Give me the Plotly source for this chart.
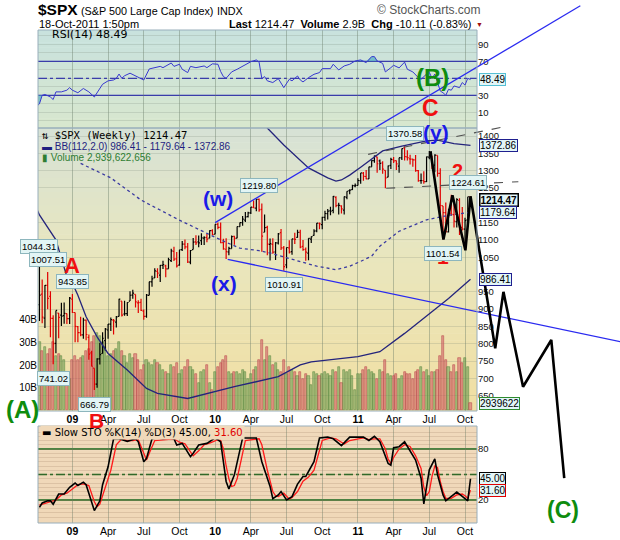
import plotly.graph_objects as go
import pandas as pd

W, H = 620, 540
def fx(p): return p / W
def fy(p): return 1 - p / H

# ---------------- DATA ----------------
weeks = pd.date_range("2008-10-06", periods=159, freq="7D")

bar_open = [1097.56, 912.75, 943.51, 874.28, 968.67, 936.75, 873.23, 801.20, 888.61, 882.71, 881.07, 887.20, 872.37,
            929.17, 890.40, 849.64, 832.50, 825.44, 868.24, 818.61, 773.68, 729.57, 683.38, 756.55, 771.99, 809.07, 839.75, 856.85, 868.27, 862.82,
            879.21, 922.99, 886.07, 887.00, 923.26, 940.35, 942.45, 918.13, 919.86, 894.27, 879.57, 940.00, 978.63, 990.22, 1008.89, 998.00, 1026.59, 1025.21,
            1016.40, 1040.00, 1067.00, 1045.00, 1026.87, 1071.63, 1088.00, 1080.00, 1036.00, 1072.00, 1094.00, 1094.00, 1098.00, 1105.00, 1107.00, 1105.00, 1127.00,
            1116.56, 1145.00, 1136.00, 1092.00, 1073.00, 1065.00, 1075.00, 1110.00, 1105.00, 1138.00, 1150.00, 1157.00, 1167.00, 1178.00, 1194.00, 1192.00, 1217.00,
            1188.00, 1122.00, 1136.00, 1087.00, 1087.00, 1065.00, 1091.00, 1121.00, 1077.00, 1028.00, 1077.00, 1066.00, 1102.00, 1107.00, 1122.00, 1081.00, 1073.00, 1062.00,
            1102.00, 1113.00, 1126.00, 1148.00, 1144.00, 1165.00, 1176.00, 1184.00, 1185.00, 1223.00, 1200.00, 1198.00, 1186.00, 1223.00, 1242.00, 1245.00, 1256.00,
            1257.00, 1271.00, 1293.00, 1283.00, 1276.00, 1311.00, 1329.00, 1340.00, 1328.00, 1322.00, 1301.00, 1281.00, 1315.00, 1332.00, 1329.00, 1313.00, 1337.00,
            1365.00, 1340.00, 1334.00, 1333.00, 1331.00, 1300.00, 1271.00, 1271.00, 1268.00, 1339.00, 1343.00, 1316.00, 1344.00, 1292.00, 1198.00, 1179.00, 1123.00,
            1177.00, 1173.00, 1153.00, 1214.00, 1136.00, 1131.00, 1158.00, 1224.47]
bar_high = [1097.56, 1044.31, 985.44, 969.97, 1007.51, 951.95, 882.29, 896.25, 888.61, 918.57, 918.85, 887.37, 934.73,
            943.85, 890.40, 851.59, 877.86, 875.01, 870.44, 827.00, 780.12, 729.57, 758.29, 803.04, 832.98, 845.61, 856.91, 875.63, 871.80, 880.48,
            930.17, 922.99, 924.60, 920.02, 951.69, 956.23, 942.45, 926.00, 930.12, 898.72, 943.96, 979.42, 996.68, 1018.00, 1018.00, 1027.59, 1039.47, 1028.00,
            1048.18, 1074.77, 1080.15, 1065.00, 1071.51, 1096.56, 1101.36, 1091.00, 1071.00, 1105.37, 1113.69, 1112.38, 1119.13, 1110.72, 1117.00, 1128.00, 1130.38,
            1145.39, 1150.45, 1150.00, 1103.00, 1104.73, 1080.00, 1112.42, 1112.00, 1139.00, 1150.00, 1169.00, 1180.69, 1181.43, 1194.66, 1213.92, 1217.28, 1219.80,
            1205.13, 1173.57, 1141.00, 1104.00, 1105.00, 1094.00, 1120.00, 1131.23, 1082.00, 1078.00, 1099.08, 1103.00, 1120.95, 1129.24, 1129.24, 1100.00, 1078.00, 1105.00,
            1110.00, 1131.00, 1148.90, 1150.00, 1167.00, 1184.00, 1189.00, 1196.00, 1227.08, 1226.00, 1207.00, 1200.00, 1225.00, 1240.40, 1246.00, 1259.00, 1263.00,
            1278.00, 1293.50, 1296.00, 1302.00, 1311.00, 1330.00, 1344.00, 1340.00, 1332.00, 1327.00, 1301.00, 1315.00, 1337.00, 1339.00, 1329.00, 1337.50, 1364.00,
            1370.58, 1359.00, 1346.00, 1334.00, 1345.00, 1302.00, 1292.00, 1298.00, 1341.00, 1356.48, 1343.00, 1347.00, 1344.00, 1307.00, 1198.00, 1208.00, 1190.00,
            1230.71, 1204.00, 1220.00, 1220.00, 1195.00, 1164.00, 1224.61, 1224.47]
bar_low = [839.80, 865.83, 859.60, 845.27, 899.73, 818.69, 741.02, 772.71, 815.69, 851.35, 857.72, 857.09, 857.07,
           889.01, 804.30, 804.47, 821.67, 814.77, 809.89, 754.25, 734.52, 666.79, 672.88, 739.89, 771.99, 779.81, 814.53, 836.93, 826.83, 847.12,
           878.94, 878.94, 881.00, 880.00, 923.26, 930.00, 904.78, 888.86, 895.00, 869.32, 875.00, 940.00, 965.00, 990.22, 990.00, 978.51, 1016.20, 991.97,
           1016.40, 1036.00, 1039.00, 1019.95, 1025.00, 1068.00, 1073.00, 1033.38, 1029.38, 1072.00, 1085.00, 1079.00, 1085.00, 1085.00, 1093.00, 1105.00, 1114.00,
           1116.56, 1131.00, 1090.00, 1071.59, 1044.50, 1056.00, 1075.00, 1086.00, 1105.00, 1138.00, 1141.00, 1152.00, 1165.00, 1175.00, 1192.00, 1183.00, 1181.62,
           1065.79, 1122.00, 1055.90, 1040.78, 1060.00, 1042.17, 1087.00, 1071.00, 1010.91, 1018.00, 1061.00, 1056.88, 1088.00, 1106.00, 1076.00, 1069.00, 1039.70, 1040.88,
           1091.00, 1112.00, 1122.00, 1131.00, 1131.00, 1155.00, 1159.00, 1171.00, 1177.00, 1194.00, 1173.00, 1176.00, 1173.00, 1217.00, 1232.00, 1244.00, 1252.00,
           1257.00, 1262.00, 1271.00, 1275.00, 1276.00, 1311.00, 1323.00, 1294.00, 1302.00, 1291.00, 1249.05, 1281.00, 1305.00, 1322.00, 1302.00, 1294.00, 1331.00,
           1329.00, 1329.00, 1318.00, 1311.00, 1297.00, 1268.00, 1262.00, 1262.00, 1267.00, 1333.00, 1305.00, 1295.00, 1282.00, 1168.09, 1101.54, 1121.00, 1121.00,
           1170.00, 1136.00, 1136.00, 1114.22, 1127.00, 1074.77, 1158.00, 1198.55]
bar_close = [899.22, 940.55, 876.77, 968.75, 930.99, 873.29, 800.03, 896.24, 876.07, 879.73, 887.88, 872.80, 931.80,
             890.35, 850.12, 831.95, 825.88, 868.60, 826.84, 770.05, 735.09, 683.38, 756.55, 768.54, 815.94, 842.50, 856.56, 869.60, 866.23, 877.52,
             929.23, 882.88, 887.00, 919.14, 940.09, 946.21, 921.23, 918.90, 896.42, 879.13, 940.38, 979.26, 987.48, 1010.48, 1004.09, 1026.13, 1028.93, 1016.40,
             1042.73, 1068.30, 1044.38, 1025.21, 1071.49, 1087.68, 1079.60, 1036.19, 1069.30, 1093.48, 1091.38, 1091.49, 1105.98, 1106.41, 1102.47, 1126.48, 1115.10,
             1144.98, 1136.03, 1091.76, 1073.87, 1066.19, 1075.51, 1109.17, 1104.49, 1138.70, 1149.99, 1159.90, 1166.59, 1178.10, 1194.37, 1192.13, 1217.28, 1186.69,
             1110.88, 1135.68, 1087.69, 1089.41, 1064.88, 1091.60, 1117.51, 1076.76, 1022.58, 1077.96, 1064.88, 1102.66, 1101.60, 1121.64, 1079.25, 1071.69, 1064.59, 1104.51,
             1109.55, 1125.59, 1148.67, 1146.24, 1165.15, 1176.19, 1183.08, 1183.26, 1225.85, 1199.21, 1199.73, 1189.40, 1224.71, 1240.40, 1243.91, 1256.77, 1257.64,
             1271.50, 1293.24, 1283.35, 1276.34, 1310.87, 1329.15, 1343.01, 1319.88, 1321.15, 1304.28, 1279.20, 1313.80, 1332.41, 1328.17, 1319.68, 1337.38, 1363.61,
             1340.20, 1337.77, 1333.27, 1331.10, 1300.16, 1270.98, 1271.50, 1268.45, 1339.67, 1343.80, 1316.14, 1345.02, 1292.28, 1199.38, 1178.81, 1123.53, 1176.80,
             1173.97, 1154.23, 1216.01, 1136.43, 1131.42, 1155.46, 1224.58, 1214.47]
volume_bn = [33, 30, 26, 28, 25, 27, 30, 24, 25, 24, 22, 13, 14,
             22, 24, 22, 23, 24, 26, 27, 30, 33, 34, 33, 30, 28, 24, 25, 26, 27,
             30, 26, 24, 21, 25, 23, 25, 22, 18, 20, 22, 21, 20, 22, 21, 20, 18, 17,
             16, 20, 19, 21, 16, 18, 19, 22, 19, 18, 16, 12, 17, 18, 20, 12, 9,
             17, 19, 21, 22, 24, 17, 16, 17, 17, 16, 18, 17, 14, 16, 18, 19, 22,
             31, 22, 28, 24, 20, 21, 18, 17, 22, 16, 19, 18, 17, 15, 17, 14, 16, 15,
             11, 17, 16, 15, 16, 17, 16, 15, 18, 17, 19, 12, 18, 17, 18, 15, 9,
             16, 16, 18, 19, 18, 17, 16, 14, 18, 17, 22, 16, 15, 15, 16, 14, 15,
             17, 16, 16, 14, 17, 18, 19, 17, 18, 15, 17, 17, 18, 24, 33, 22, 19,
             17, 20, 17, 23, 21, 23, 19, 2.94]

# indicator readings (week number -> value)
rsi_week = [0, 1, 2, 3, 5, 6, 7, 9, 11, 12, 13, 15, 17, 19, 21, 23, 24, 26, 28, 29, 30, 31, 32, 34, 36, 39, 41, 43, 45, 46,
            49, 50, 52, 53, 55, 56, 58, 61, 62, 64, 66, 67, 68, 69, 71, 73, 75, 77, 78, 80, 81, 82, 83, 84, 86, 88, 90, 92, 93,
            95, 96, 97, 99, 101, 103, 104, 107, 108, 110, 112, 114, 116, 118, 120, 121, 122, 123, 124, 126, 127, 129, 130, 132,
            134, 135, 137, 139, 140, 142, 143, 144, 145, 146, 147, 148, 149, 150, 151, 152, 153, 154, 155, 156, 157, 158]
rsi_val = [17, 20, 30, 31, 28, 25, 34, 34, 36, 39, 36, 33, 38, 34, 28, 37, 43, 47, 48, 50, 55, 50, 53, 56, 53, 48, 61, 62.5, 64, 62.5,
           68, 64, 66.5, 60.6, 56.7, 64, 62.5, 64.5, 62.5, 67, 66.5, 58, 52, 50, 57.5, 60.6, 64.5, 67.6, 69.5, 71.6, 69, 49.6, 52, 47, 45, 49.6, 39, 48.8, 47,
           52.7, 48, 45.7, 50.8, 54.7, 56.7, 61.4, 61.4, 66.5, 59.8, 64.5, 66.5, 70.4, 71.6, 68.4, 72.4, 75.5, 75.5, 70.4, 67.6, 57.5, 62.5, 65.3, 62.2,
           69, 60.6, 57.5, 50.8, 48.8, 55, 57, 50, 55, 45, 35, 33, 30, 37, 36, 41, 40, 39, 45, 42, 50, 48.49]

stoch_k_week = [1, 2, 4, 5, 6, 8, 10, 12, 14, 15, 17, 18, 21, 23, 24, 26, 28, 30, 33, 36, 37, 39, 40, 42, 44, 46, 48, 50, 51, 53,
                56, 57, 59, 62, 65, 67, 68, 69, 70, 72, 75, 80, 82, 85, 86, 88, 89, 91, 93, 95, 97, 98, 101, 103, 106, 108, 111,
                114, 119, 121, 123, 125, 128, 129, 130, 132, 134, 136, 138, 140, 141, 143, 145, 146, 148, 149, 151, 153, 155, 156, 157, 158]
stoch_k_val = [11.4, 16.5, 19, 19, 15, 27, 27, 35, 40, 37, 41, 38, 7.5, 19, 38, 59, 92, 92, 89, 92, 88.5, 65, 69, 92, 93, 92, 93, 92, 84.7, 86.6,
               71, 75, 84.7, 86.6, 93, 88.5, 65, 41.8, 33, 49.6, 93, 93, 65, 36, 21.5, 26, 30, 20, 24, 38.7, 47.7, 47.7, 65, 93, 94, 92, 84,
               94, 94, 90, 95, 88.5, 63, 61, 81.5, 82.7, 88.5, 77, 67, 45.7, 15.3, 55.5, 68.3, 49.6, 26, 19, 24.3, 29.4, 24.3, 22, 19, 45.0]
stoch_d_week = [1, 3, 5, 7, 9, 11, 13, 15, 17, 19, 21, 22, 23, 25, 27, 29, 31, 33, 35, 37, 39, 40, 41, 43, 50, 52, 54, 56, 57, 59,
                61, 63, 66, 67, 68, 69, 70, 71, 72, 73, 75, 76, 81, 82, 84, 86, 87, 88, 90, 91, 92, 93, 95, 97, 99, 101, 103, 104,
                107, 109, 111, 112, 114, 119, 121, 123, 125, 127, 128, 129, 130, 132, 134, 136, 138, 140, 141, 142, 143, 144, 145,
                146, 147, 148, 149, 151, 153, 155, 156, 157, 158]
stoch_d_val = [14, 16, 18, 20, 26, 28, 33, 38, 39, 37, 18, 12, 15, 35, 55, 85, 92, 90, 90, 91, 75, 67, 75, 90, 92, 88, 86, 76, 72, 78,
               85, 87, 91, 90, 80, 60, 45, 36, 37, 45, 75, 90, 92, 85, 55, 30, 25, 24, 28, 24, 21, 23, 30, 42, 47, 55, 80, 90,
               93, 92, 88, 86, 90, 93, 91, 92, 92, 80, 68, 63, 70, 80, 85, 83, 72, 57, 35, 25, 30, 48, 60,
               58, 42, 30, 22, 22, 26, 27, 25, 22, 31.6]

bb_upper_week = [80, 84, 90, 96, 99, 106, 109, 111, 114, 118, 121, 126, 133, 142, 146, 152, 158]
bb_upper_val = [1480, 1423, 1374, 1328, 1308, 1279, 1270, 1273, 1287, 1310, 1328, 1357, 1371, 1386, 1388, 1378, 1372.86]
bb_mid_week = [16, 27, 38, 52, 62, 67, 74, 81, 85, 96, 102, 109, 114, 118, 122, 125, 132, 142, 150, 158]
bb_mid_val = [1321, 1279, 1215, 1157, 1119, 1100, 1076, 1069, 1062, 1038, 1024, 1014, 1024, 1038, 1053, 1082, 1125, 1158, 1171, 1179.64]
bb_lower_week = [0, 1, 7, 11, 13, 15, 18, 22, 26, 33, 40, 44, 55, 72, 88, 96, 100, 117, 125, 134, 150, 158]
bb_lower_val = [1190, 1172, 1100, 994, 975, 940, 878, 820, 772, 724, 671, 657, 642, 676, 705, 739, 748, 763, 777, 830, 931, 986.41]

# hand-drawn wave annotations (date, price)
channel_top_date = ["2010-01-04", "2012-07-23"]
channel_top_val = [1150, 1776]
channel_bot_date = ["2010-02-05", "2012-11-02"]
channel_bot_val = [1044, 806]
wedge_top_date = ["2011-01-29", "2012-01-04"]
wedge_top_val = [1347, 1425]
wedge_bot_date = ["2011-03-16", "2012-02-16"]
wedge_bot_val = [1249, 1268]
wave_date = ["2011-07-07", "2011-08-09", "2011-09-01", "2011-10-04", "2011-10-17",
             "2011-12-19", "2012-01-09", "2012-02-28", "2012-05-10", "2012-06-12"]
wave_val = [1356, 1101, 1229, 1070, 1226, 787, 950, 676, 811, 412]

quarter_ticks = ["2009-01-05", "2009-04-06", "2009-07-06", "2009-10-05", "2010-01-04", "2010-04-05",
                 "2010-07-05", "2010-10-04", "2011-01-03", "2011-04-04", "2011-07-04", "2011-10-03"]
quarter_text = ["<b>09</b>", "Apr", "Jul", "Oct", "<b>10</b>", "Apr", "Jul", "Oct", "<b>11</b>", "Apr", "Jul", "Oct"]
price_ticks = [650, 700, 750, 800, 850, 900, 950, 1050, 1100, 1150, 1250, 1300, 1350, 1400]

# ---------------- LAYOUT CONSTANTS ----------------
LEFT, RIGHT = 38, 477
RSI_TOP, MAIN_TOP, MAIN_BOT, STO_TOP, STO_BOT = 30, 128, 411, 426, 523
X_RANGE = ["2008-10-09 08:00", "2011-11-02 14:00"]
PRICE_RANGE = [605.9, 1423.1]
VOL_RANGE = [-0.44, 125.3]
RSI_RANGE = [-8.47, 106.8]
STO_RANGE = [-7.06, 107.06]

t0, t1 = pd.Timestamp(X_RANGE[0]), pd.Timestamp(X_RANGE[1])
a, b = fx(LEFT), fx(RIGHT)
tspan = (t1 - t0) / (b - a)
OV_X = [str(t0 - tspan * a), str(t1 + tspan * (1 - b))]
c, d = fy(MAIN_BOT), fy(MAIN_TOP)
pspan = (PRICE_RANGE[1] - PRICE_RANGE[0]) / (d - c)
OV_Y = [PRICE_RANGE[0] - pspan * c, PRICE_RANGE[1] + pspan * (1 - d)]

def wk(idx):
    return [weeks[i] for i in idx]

fig = go.Figure()

# volume
up = []
prev = None
for o, cl in zip(bar_open, bar_close):
    up.append(cl >= (o if prev is None else prev))
    prev = cl
vol_fill = ["rgba(110,160,85,0.55)" if u else "rgba(215,105,110,0.6)" for u in up]
vol_line = ["rgba(90,135,65,0.9)" if u else "rgba(185,70,75,0.9)" for u in up]
fig.add_trace(go.Bar(x=weeks, y=volume_bn, marker=dict(color=vol_fill, line=dict(color=vol_line, width=0.6)),
                     width=5.4 * 86400000, xaxis="x", yaxis="y", hoverinfo="skip"))

# Bollinger bands
fig.add_trace(go.Scatter(x=wk(bb_upper_week), y=bb_upper_val, mode="lines", line=dict(color="#24247c", width=1.3),
                         xaxis="x", yaxis="y2"))
fig.add_trace(go.Scatter(x=wk(bb_lower_week), y=bb_lower_val, mode="lines", line=dict(color="#24247c", width=1.3),
                         xaxis="x", yaxis="y2"))
fig.add_trace(go.Scatter(x=wk(bb_mid_week), y=bb_mid_val, mode="lines", line=dict(color="#3a3aa0", width=1.3, dash="dot"),
                         xaxis="x", yaxis="y2"))

# price bars
for flag, col in [(True, "black"), (False, "#e00000")]:
    idx = [i for i, u in enumerate(up) if u == flag]
    fig.add_trace(go.Ohlc(x=wk(idx), open=[bar_open[i] for i in idx], high=[bar_high[i] for i in idx],
                          low=[bar_low[i] for i in idx], close=[bar_close[i] for i in idx],
                          increasing=dict(line=dict(color=col, width=1.2)),
                          decreasing=dict(line=dict(color=col, width=1.2)),
                          tickwidth=0.45, xaxis="x", yaxis="y2", hoverinfo="skip"))

# RSI with shaded extremes
RSI_FILL = "rgba(70,170,190,0.65)"
lo_idx = [i for i, w in enumerate(rsi_week) if w <= 2]
hi_idx = [i for i, w in enumerate(rsi_week) if 116 <= w <= 124]
fig.add_trace(go.Scatter(x=[weeks[rsi_week[i]] for i in lo_idx], y=[30] * len(lo_idx), mode="lines",
                         line=dict(width=0), xaxis="x2", yaxis="y3"))
fig.add_trace(go.Scatter(x=[weeks[rsi_week[i]] for i in lo_idx], y=[min(rsi_val[i], 30) for i in lo_idx], mode="lines",
                         line=dict(width=0), fill="tonexty", fillcolor=RSI_FILL, xaxis="x2", yaxis="y3"))
fig.add_trace(go.Scatter(x=[weeks[rsi_week[i]] for i in hi_idx], y=[70] * len(hi_idx), mode="lines",
                         line=dict(width=0), xaxis="x2", yaxis="y3"))
fig.add_trace(go.Scatter(x=[weeks[rsi_week[i]] for i in hi_idx], y=[max(rsi_val[i], 70) for i in hi_idx], mode="lines",
                         line=dict(width=0), fill="tonexty", fillcolor=RSI_FILL, xaxis="x2", yaxis="y3"))
fig.add_trace(go.Scatter(x=wk(rsi_week), y=rsi_val, mode="lines", line=dict(color="#3838d0", width=1),
                         xaxis="x2", yaxis="y3"))
# STO
fig.add_trace(go.Scatter(x=wk(stoch_d_week), y=stoch_d_val, mode="lines", line=dict(color="#ff1a1a", width=1.3),
                         xaxis="x3", yaxis="y4"))
fig.add_trace(go.Scatter(x=wk(stoch_k_week), y=stoch_k_val, mode="lines", line=dict(color="black", width=1.6),
                         xaxis="x3", yaxis="y4"))

# overlay drawings
fig.add_trace(go.Scatter(x=channel_top_date, y=channel_top_val, mode="lines", line=dict(color="#2a2af0", width=1.3),
                         xaxis="x4", yaxis="y5"))
fig.add_trace(go.Scatter(x=channel_bot_date, y=channel_bot_val, mode="lines", line=dict(color="#2a2af0", width=1.3),
                         xaxis="x4", yaxis="y5"))
for dd, vv in [(wedge_top_date, wedge_top_val), (wedge_bot_date, wedge_bot_val)]:
    fig.add_trace(go.Scatter(x=dd, y=vv, mode="lines", line=dict(color="#505050", width=1.1, dash="dash"),
                             xaxis="x4", yaxis="y5"))
fig.add_trace(go.Scatter(x=wave_date, y=wave_val, mode="lines", line=dict(color="black", width=2.6),
                         xaxis="x4", yaxis="y5"))

# ---------------- SHAPES ----------------
shapes = []
def gradient(ytop, ybot, stops, n=40):
    for i in range(n):
        f = (i + 0.5) / n
        for j in range(len(stops) - 1):
            if stops[j][0] <= f <= stops[j + 1][0]:
                g = (f - stops[j][0]) / (stops[j + 1][0] - stops[j][0])
                col = [round(stops[j][1][k] + g * (stops[j + 1][1][k] - stops[j][1][k])) for k in range(3)]
                break
        y0 = ytop + (ybot - ytop) * i / n
        y1 = ytop + (ybot - ytop) * (i + 1) / n + 0.6
        shapes.append(dict(type="rect", xref="paper", yref="paper", x0=fx(LEFT), x1=fx(RIGHT), y0=fy(min(y1, ybot)), y1=fy(y0),
                           fillcolor="rgb(%d,%d,%d)" % tuple(col), line=dict(width=0), layer="below"))

gradient(RSI_TOP, MAIN_TOP, [(0, (200, 226, 222)), (1, (216, 231, 206))])
gradient(MAIN_TOP, MAIN_BOT, [(0, (214, 226, 214)), (0.45, (233, 230, 190)), (1, (241, 223, 162))])
gradient(STO_TOP, STO_BOT, [(0, (240, 217, 187)), (1, (240, 216, 184))], n=4)

for val, dash in [(70, "solid"), (30, "solid"), (50, "dashdot")]:
    shapes.append(dict(type="line", xref="paper", yref="y3", x0=fx(LEFT), x1=fx(RIGHT), y0=val, y1=val,
                       line=dict(color="#2a2ab8", width=1.3, dash=dash), layer="below"))
for val, dash in [(80, "solid"), (20, "solid"), (50, "dashdot")]:
    shapes.append(dict(type="line", xref="paper", yref="y4", x0=fx(LEFT), x1=fx(RIGHT), y0=val, y1=val,
                       line=dict(color="#17661b", width=1.3, dash=dash), layer="below"))
for yt, yb in [(RSI_TOP, MAIN_TOP), (MAIN_TOP, MAIN_BOT), (STO_TOP, STO_BOT)]:
    shapes.append(dict(type="rect", xref="paper", yref="paper", x0=fx(LEFT), x1=fx(RIGHT), y0=fy(yb), y1=fy(yt),
                       line=dict(color="#98aebb", width=1), fillcolor="rgba(0,0,0,0)", layer="above"))

# ---------------- ANNOTATIONS ----------------
ann = []
def txt(text, x, y, size=11, color="black", family="Liberation Sans", xanchor="left", **kw):
    ann.append(dict(text=text, x=fx(x), y=fy(y), xref="paper", yref="paper", showarrow=False,
                    xanchor=xanchor, yanchor="middle", font=dict(size=size, color=color, family=family), **kw))

txt("<b>$SPX</b>", 36, 10, size=15.5)
txt("(S&P 500 Large Cap Index)", 79, 11, size=10.8)
txt("INDX", 215, 11, size=10.8)
txt("© StockCharts.com", 483, 10, size=12, color="#555", xanchor="right")
txt("18-Oct-2011 1:50pm", 37, 24, size=11)
txt("<b>Last</b> 1214.47  <b>Volume</b> 2.9B  <b>Chg</b> -10.11 (-0.83%)", 473, 24, size=11, xanchor="right")
txt("▼", 474, 25, size=7, color="#a01010")

txt("RSI(14) 48.49", 50, 35, size=11, family="DejaVu Sans")
txt("⇅ $SPX (Weekly) 1214.47", 40, 135, size=10.5, family="DejaVu Sans Mono")
txt("▬ BB(112,2.0) 986.41 - 1179.64 - 1372.86", 40, 147, size=10, color="#1f1f80")
txt("▮ Volume 2,939,622,656", 40, 157, size=10, color="#2e7d32")
txt("▬ Slow STO %K(14) %D(3) 45.00, <span style='color:#e00000'>31.60</span>", 40, 432, size=10,
    family="DejaVu Sans", bgcolor="#f0d9ba")

# wave labels
GREEN, RED, BLUE = "#0e8c0e", "#f01010", "#1a1ae8"
for t, x, y, col, sz in [("(A)", 22, 409, GREEN, 24), ("A", 72, 265, RED, 22), ("B", 96, 420, RED, 21),
                         ("(w)", 218, 198, BLUE, 21), ("(x)", 224, 283, BLUE, 21), ("(y)", 436, 132, BLUE, 21),
                         ("C", 430, 108, RED, 23), ("(B)", 432, 78, GREEN, 24), ("2", 457, 171, RED, 20),
                         ("1", 443, 256, RED, 21), ("(C)", 563, 510, GREEN, 23)]:
    txt("<b>%s</b>" % t, x, y, size=sz, color=col, xanchor="center")

# price swing labels (data coords)
for date, price, shift in [("2008-10-13", 1044.31, 5), ("2008-11-03", 1007.51, 5), ("2009-01-05", 943.85, 5),
                           ("2008-10-06", 839.80, -7), ("2008-11-17", 741.02, -7), ("2009-03-02", 666.79, -7),
                           ("2010-04-26", 1219.80, 5), ("2010-06-28", 1010.91, -6), ("2011-05-02", 1370.58, 5),
                           ("2011-10-10", 1224.61, 7), ("2011-08-08", 1101.54, -7)]:
    ann.append(dict(text="%.2f" % price, x=date, y=price, xref="x", yref="y2", showarrow=False,
                    xanchor="center", yanchor="bottom" if shift > 0 else "top", yshift=shift,
                    font=dict(size=9.5, color="black", family="Liberation Sans"),
                    bgcolor="#e2f5f5", bordercolor="#8db6bd", borderwidth=1, borderpad=1))

# right-edge value boxes
for t, yref, val, border, bw in [("48.49", "y3", 48.49, "#55c0d5", 1), ("1372.86", "y2", 1372.86, "#1f1f8f", 1),
                                 ("<b>1214.47</b>", "y2", 1214.47, "#000000", 1.5), ("1179.64", "y2", 1179.64, "#1f1f8f", 1),
                                 ("986.41", "y2", 986.41, "#1f1f8f", 1), ("2939622", "y", 2.94, "#2e8b2e", 1),
                                 ("45.00", "y4", 45.0, "#000000", 1), ("31.60", "y4", 31.6, "#e00000", 1)]:
    ann.append(dict(text=t, x=fx(RIGHT + 2), y=val, xref="paper", yref=yref, showarrow=False,
                    xanchor="left", yanchor="middle", font=dict(size=10, color="black", family="Liberation Sans"),
                    bgcolor="#e2f6f8", bordercolor=border, borderwidth=bw, borderpad=0))

GRID_H = "rgba(120,130,120,0.22)"
GRID_V = "rgba(100,120,100,0.40)"
xcommon = dict(type="date", range=X_RANGE, domain=[fx(LEFT), fx(RIGHT)], tickvals=quarter_ticks, ticktext=quarter_text,
               showgrid=True, gridcolor=GRID_V, gridwidth=1, zeroline=False, showline=False, ticks="",
               tickfont=dict(size=10.5, family="Liberation Sans", color="black"), fixedrange=True)

fig.update_layout(
    width=W, height=H, autosize=False, margin=dict(l=0, r=0, t=0, b=0),
    paper_bgcolor="white", plot_bgcolor="rgba(0,0,0,0)", showlegend=False, hovermode=False,
    font=dict(family="Liberation Sans", size=10, color="black"),
    bargap=0,
    xaxis=dict(**xcommon, anchor="y", rangeslider=dict(visible=False)),
    yaxis=dict(domain=[fy(MAIN_BOT), fy(MAIN_TOP)], range=VOL_RANGE, side="left", tickvals=[10, 20, 30, 40],
               ticktext=["10B", "20B", "30B", "40B"], showgrid=False, zeroline=False, ticks="",
               tickfont=dict(size=10, color="black"), anchor="x", fixedrange=True),
    yaxis2=dict(range=PRICE_RANGE, overlaying="y", side="right", tickvals=price_ticks, showgrid=True,
                gridcolor=GRID_H, zeroline=False, ticks="", tickfont=dict(size=9.5, color="#111"), anchor="x", fixedrange=True),
    xaxis2=dict(**xcommon, anchor="y3", showticklabels=False),
    yaxis3=dict(domain=[fy(MAIN_TOP), fy(RSI_TOP)], range=RSI_RANGE, side="right", tickvals=list(range(0, 101, 10)),
                ticktext=["", "10", "", "30", "", "", "", "70", "", "90", ""], showgrid=True, gridcolor=GRID_H,
                zeroline=False, ticks="", tickfont=dict(size=9.5, color="#111"), anchor="x2", fixedrange=True),
    xaxis3=dict(**xcommon, anchor="y4"),
    yaxis4=dict(domain=[fy(STO_BOT), fy(STO_TOP)], range=STO_RANGE, side="right", tickvals=list(range(0, 101, 5)),
                ticktext=["20" if v == 20 else "80" if v == 80 else "" for v in range(0, 101, 5)],
                showgrid=True, gridcolor="rgba(150,120,90,0.22)", zeroline=False, ticks="",
                tickfont=dict(size=9.5, color="#111"), anchor="x3", fixedrange=True),
    xaxis4=dict(type="date", range=OV_X, domain=[0, 1], anchor="y5", visible=False, fixedrange=True),
    yaxis5=dict(range=OV_Y, domain=[0, 1], anchor="x4", visible=False, fixedrange=True),
    shapes=shapes, annotations=ann,
)

fig.write_html("out.html", config={"displayModeBar": False},
               post_script="document.body.style.margin='0px';document.body.style.overflow='hidden';")
